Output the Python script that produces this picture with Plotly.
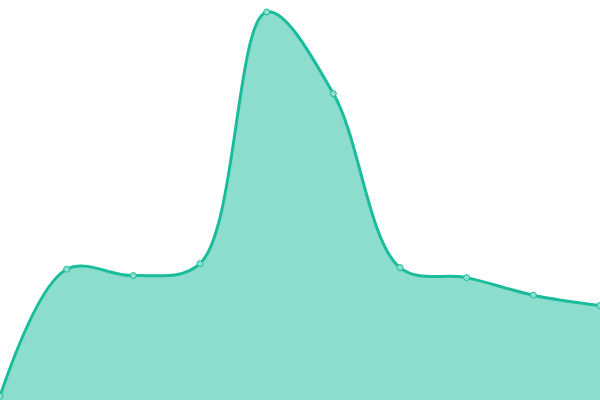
import plotly.graph_objects as go

# data
x_values = [0, 1, 2, 3, 4, 5, 6, 7, 8, 9]
y_values = [1, 32.7, 31.1, 34.1, 97.0, 76.6, 33.1, 30.6, 26.2, 23.6]

LINE_COLOR = '#1abc9c'

fig = go.Figure()
fig.add_trace(go.Scatter(
    x=x_values, y=y_values,
    mode='lines+markers',
    fill='tozeroy',
    fillcolor='rgba(26,188,156,0.5)',
    line=dict(color=LINE_COLOR, width=3, shape='spline', smoothing=1),
    marker=dict(size=6, color='#8ce0cf', line=dict(color=LINE_COLOR, width=1)),
    cliponaxis=False,
))
fig.update_layout(
    width=600, height=400,
    margin=dict(l=0, r=0, t=0, b=0),
    paper_bgcolor='white', plot_bgcolor='white',
    showlegend=False,
)
fig.update_xaxes(visible=False, range=[0, 9])
fig.update_yaxes(visible=False, range=[0, 100])
# drop the default page margin so the plot sits at the window corner
fig.write_html("out.html", config={'displayModeBar': False},
               post_script="document.body.style.margin='0';")
